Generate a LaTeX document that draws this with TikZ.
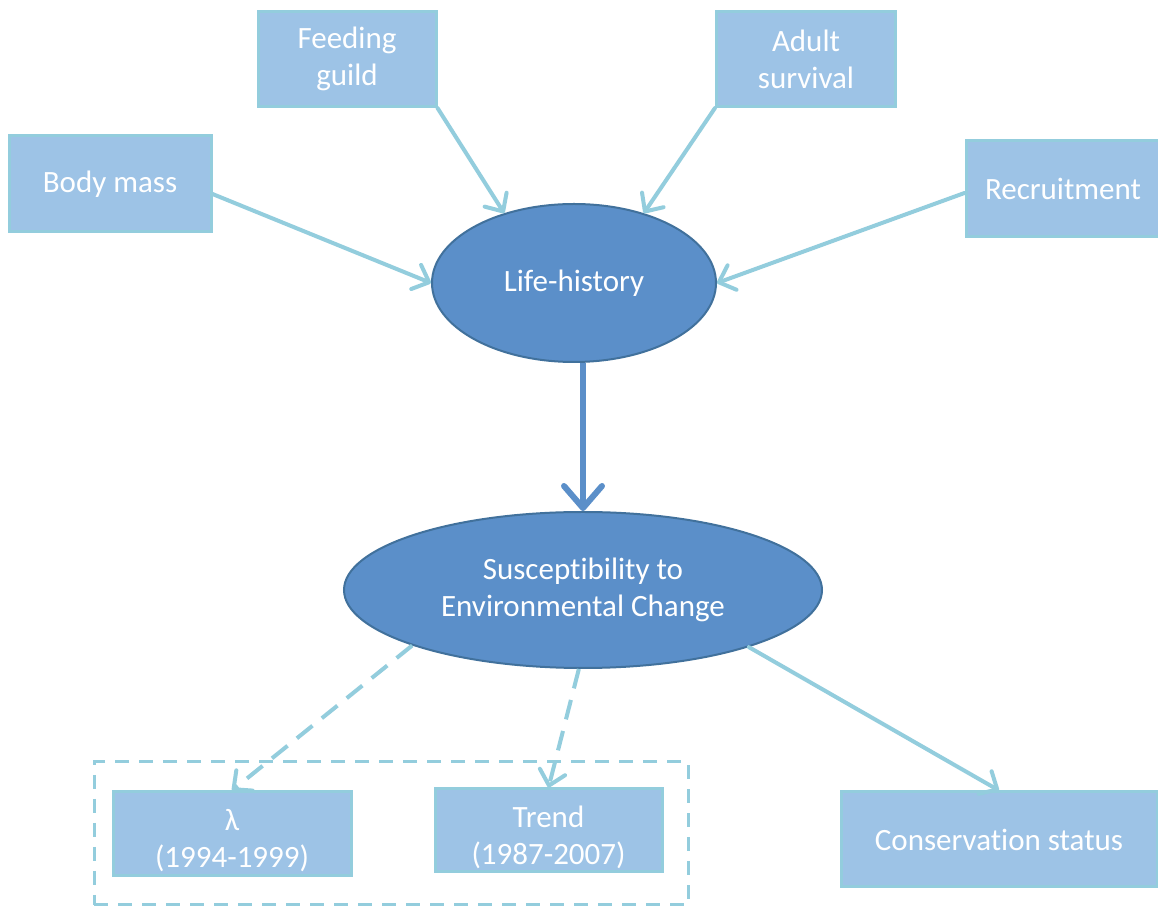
\documentclass[tikz,border=0pt]{standalone}
\usepackage{fontspec}
\setmainfont[RawFeature={-liga;-clig;-calt;-dlig}]{Carlito}
\usetikzlibrary{shapes.geometric,arrows.meta}
\definecolor{boxfill}{HTML}{9DC3E6}
\definecolor{boxline}{HTML}{93CDDD}
\definecolor{ellfill}{HTML}{5B8FC9}
\definecolor{ellline}{HTML}{41719C}
\tikzset{
  x=0.5pt, y=-0.5pt,
  every node/.style={font=\fontsize{15.5}{18.5}\selectfont, text=white, align=center, inner sep=0pt},
  boxnode/.style={rectangle, fill=boxfill, draw=boxline, line width=1.5pt},
  ellnode/.style={ellipse, fill=ellfill, draw=ellline, line width=1pt},
  lightarrow/.style={draw=boxline, line width=2pt, line cap=round,
     -{Straight Barb[length=7pt, width=13pt, line width=2pt, round]}},
  dasharrow/.style={lightarrow, dash pattern=on 10pt off 6pt, line cap=butt},
  mainarrow/.style={draw=ellfill, line width=3pt,
     -{Straight Barb[length=11pt, width=19pt, line width=3pt, round]}},
  groupbox/.style={draw=boxline, line width=1.5pt, dash pattern=on 7pt off 5pt}
}
\begin{document}
\begin{tikzpicture}
\useasboundingbox (0,0) rectangle (1158,908);
\fill[white] (0,0) rectangle (1158,908);
% top boxes
\node[boxnode, minimum width=89pt, minimum height=47.5pt] (fg) at (347,59) {Feeding\\guild};
\node[boxnode, minimum width=101pt, minimum height=48pt] (bm) at (110,184) {Body mass};
\node[boxnode, minimum width=89.5pt, minimum height=47.5pt] (as) at (806,59) {Adult\\survival};
\node[boxnode, minimum width=97pt, minimum height=48pt] (rc) at (1063,189) {Recruitment};
% ellipses
\node[ellnode, minimum width=142pt, minimum height=79pt] (lh) at (574,283) {Life-history};
\node[ellnode, minimum width=239pt, minimum height=78pt] (su) at (583,590) {Susceptibility to\\Environmental Change};
% bottom
\node[groupbox, minimum width=297pt, minimum height=71.5pt] (grp) at (391,833.5) {};
\node[boxnode, minimum width=119pt, minimum height=42pt] (lam) at (232,834) {};
\node (lamt) at ([yshift=-3.5pt]lam.center) {λ\\(1994-1999)};
\node[boxnode, minimum width=113.5pt, minimum height=41.5pt] (tr) at (548.5,830.5) {};
\node (trt) at ([yshift=-3.5pt]tr.center) {Trend\\(1987-2007)};
\node[boxnode, minimum width=158pt, minimum height=47.5pt] (cs) at (999,839.5) {Conservation status};
% connectors
\draw[lightarrow] ([yshift=-5pt]bm.east) -- (lh.west);
\draw[lightarrow] (fg.south east) -- (lh.135);
\draw[lightarrow] (as.south west) -- (lh.45);
\draw[lightarrow] ([yshift=-2pt]rc.west) -- (lh.east);
\draw[mainarrow] (su.north |- lh.south) -- (su.north);
\draw[dasharrow] (su.198.5) -- (lam.north);
\draw[dasharrow] (su.267) -- (tr.north);
\draw[lightarrow] (su.341.6) -- (cs.north);
\end{tikzpicture}
\end{document}
